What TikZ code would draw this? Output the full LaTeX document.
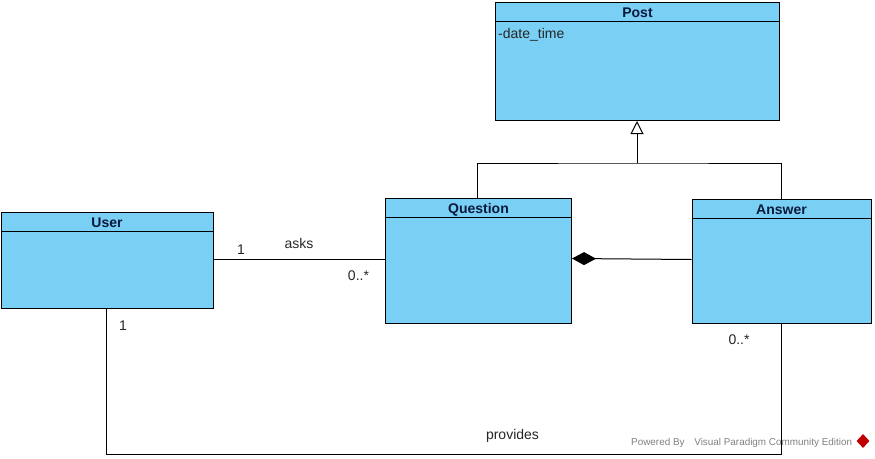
\documentclass[tikz,border=0pt]{standalone}
\usepackage{fontspec}
\setmainfont{Liberation Sans}
\usetikzlibrary{arrows.meta,shapes.geometric}
\definecolor{classblue}{RGB}{122,207,245}
\definecolor{classtext}{RGB}{10,25,60}
\tikzstyle{classbody} = [rectangle, draw=black, fill=classblue, line width=1pt, inner sep=0pt]
\tikzstyle{classhead} = [rectangle, draw=black, fill=classblue, line width=1pt, inner sep=0pt, minimum height=19pt, anchor=north, text=classtext, text height=12pt, text depth=1pt, font=\fontsize{14}{16}\selectfont\bfseries]
\tikzstyle{label} = [inner sep=0pt, text=black!85, font=\fontsize{14}{16}\selectfont]
\tikzstyle{link} = [line width=1pt, draw=black]
\tikzstyle{inherit} = [link,-{Triangle[open,fill=white,length=13pt,width=13pt]}]
\tikzstyle{compose} = [link,-{Diamond[length=24pt,width=13pt]}]

\begin{document}
\begin{tikzpicture}[x=1pt,y=-1pt]
\useasboundingbox (0,0) rectangle (875,458);
%
\node (post) [classbody, minimum width=284pt, minimum height=118pt] at (637.5,61.5) {};
\node (post_head) [classhead, minimum width=284pt] at (post.north) {Post};
\node (question) [classbody, minimum width=186pt, minimum height=125pt] at (478.5,261) {};
\node (question_head) [classhead, minimum width=186pt] at (question.north) {Question};
\node (answer) [classbody, minimum width=179pt, minimum height=124pt] at (781.5,261.5) {};
\node (answer_head) [classhead, minimum width=179pt] at (answer.north) {Answer};
\node (user) [classbody, minimum width=212pt, minimum height=96pt] at (107,260) {};
\node (user_head) [classhead, minimum width=212pt] at (user.north) {User};
%
\node (date_time) [label, anchor=base west] at (498,38) {-date\_time};
\node (asks) [label] at (299,243) {asks};
\node (asks_one) [label] at (241,250) {1};
\node (asks_many) [label] at (358.5,276) {0..*};
\node (provides) [label] at (512.5,436) {provides};
\node (provides_one) [label] at (123,326) {1};
\node (provides_many) [label] at (739,340) {0..*};
%
\coordinate (gen_join) at (637,163);
\coordinate (provides_low) at (781.5,454.5);
%
\draw [link] ([xshift=-1pt]question.north) |- (gen_join) -| (answer.north);
\draw [inherit] (gen_join) -- ([xshift=-0.5pt]post.south);
\draw [compose] ([yshift=2pt]answer.west) -- ([yshift=2.5pt]question.east);
\draw [link] ([yshift=0.7pt]user.east) -- ([yshift=0.7pt]user.east -| question.west);
\draw [link] ([xshift=-0.5pt]user.south) |- (provides_low) -- (answer.south);
%
\node (powered) [inner sep=0pt, anchor=base west, text=black!50, font=\fontsize{9.9}{12}\selectfont] at (631,445) {Powered By \hspace{7pt}Visual Paradigm Community Edition};
\node (logo) [diamond, fill=red!75!black, minimum width=13pt, minimum height=14pt, inner sep=0pt] at (863,441) {};
\end{tikzpicture}
\end{document}
